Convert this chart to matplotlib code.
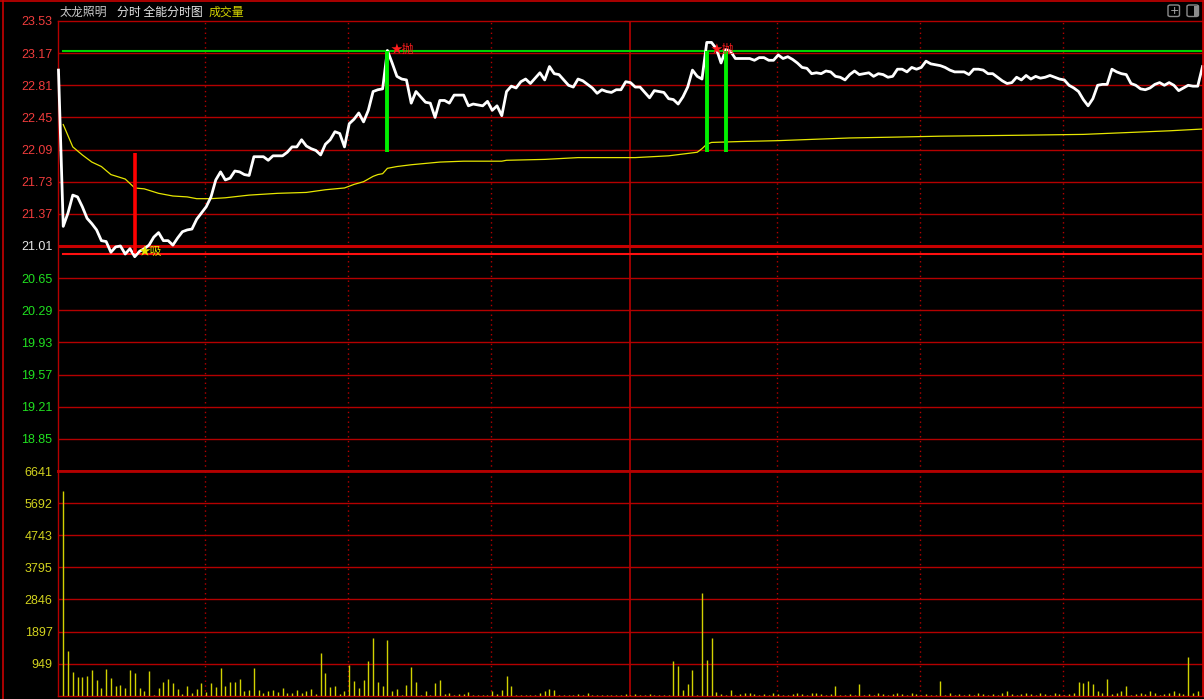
import numpy as np
import matplotlib
matplotlib.use("Agg")
import matplotlib.pyplot as plt
from matplotlib.patches import FancyBboxPatch, Rectangle

plt.rcParams['font.family'] = ['Liberation Sans', 'Noto Sans CJK SC', 'DejaVu Sans']

W, H = 1204, 699

# ---- 分时价格 (分钟 0..240) ----
price = [22.98, 21.23, 21.38, 21.58, 21.56, 21.45, 21.32, 21.26, 21.19, 21.07,
         21.06, 20.94, 21.00, 21.01, 20.92, 20.98, 20.89, 20.95, 20.98, 21.02,
         21.11, 21.16, 21.07, 21.07, 21.02, 21.10, 21.17, 21.19, 21.20, 21.31,
         21.38, 21.45, 21.56, 21.75, 21.84, 21.75, 21.77, 21.85, 21.84, 21.81,
         21.80, 22.01, 22.01, 22.01, 21.97, 22.02, 22.02, 22.02, 22.06, 22.12,
         22.12, 22.20, 22.13, 22.10, 22.08, 22.03, 22.15, 22.20, 22.29, 22.27,
         22.12, 22.38, 22.43, 22.50, 22.40, 22.53, 22.74, 22.76, 22.77, 23.20,
         23.06, 22.91, 22.88, 22.87, 22.61, 22.74, 22.68, 22.62, 22.61, 22.45,
         22.64, 22.64, 22.61, 22.70, 22.70, 22.70, 22.58, 22.60, 22.59, 22.58,
         22.63, 22.53, 22.58, 22.47, 22.74, 22.80, 22.78, 22.85, 22.88, 22.83,
         22.89, 22.95, 22.87, 23.02, 22.94, 22.93, 22.87, 22.81, 22.79, 22.88,
         22.86, 22.82, 22.78, 22.72, 22.76, 22.74, 22.73, 22.76, 22.76, 22.85,
         22.84, 22.79, 22.79, 22.73, 22.67, 22.75, 22.74, 22.73, 22.66, 22.65,
         22.60, 22.68, 22.79, 22.98, 22.91, 22.88, 23.29, 23.29, 23.22, 23.06,
         23.21, 23.19, 23.11, 23.11, 23.11, 23.11, 23.09, 23.12, 23.12, 23.09,
         23.09, 23.15, 23.11, 23.13, 23.10, 23.06, 23.01, 23.00, 22.94, 22.95,
         22.94, 22.97, 22.96, 22.91, 22.90, 22.87, 22.93, 22.97, 22.93, 22.94,
         22.95, 22.91, 22.94, 22.93, 22.90, 22.91, 22.99, 22.99, 22.96, 23.01,
         22.99, 23.01, 23.08, 23.05, 23.04, 23.03, 23.01, 22.98, 22.96, 22.96,
         22.96, 22.93, 22.99, 22.99, 22.98, 22.94, 22.94, 22.90, 22.86, 22.83,
         22.84, 22.90, 22.87, 22.92, 22.88, 22.91, 22.89, 22.90, 22.92, 22.90,
         22.88, 22.87, 22.81, 22.78, 22.74, 22.65, 22.58, 22.66, 22.81, 22.82,
         22.82, 22.99, 22.96, 22.94, 22.93, 22.83, 22.81, 22.77, 22.76, 22.78,
         22.82, 22.84, 22.81, 22.84, 22.81, 22.75, 22.78, 22.81, 22.80, 22.80,
         23.02]

# ---- 均价线 (读取的拐点) ----
avg_min = [1, 3, 5, 7, 9, 11, 14, 16, 18, 21, 24, 27, 29, 32, 35, 40, 46, 52,
           56, 60, 62, 64, 66, 67, 68, 69, 71, 74, 80, 85, 93, 94, 102, 109,
           121, 128, 134, 135, 136, 137, 143, 151, 156, 166, 176, 185, 201,
           215, 224, 233, 240]
avg_val = [22.37, 22.12, 22.03, 21.95, 21.90, 21.81, 21.76, 21.66, 21.65,
           21.60, 21.57, 21.56, 21.54, 21.54, 21.55, 21.58, 21.60, 21.61,
           21.64, 21.66, 21.70, 21.73, 21.79, 21.81, 21.82, 21.88, 21.90,
           21.92, 21.95, 21.96, 21.96, 21.97, 21.98, 22.00, 22.00, 22.02,
           22.06, 22.10, 22.15, 22.17, 22.18, 22.19, 22.20, 22.22, 22.23,
           22.24, 22.25, 22.26, 22.28, 22.30, 22.32]

# ---- 成交量 (分钟 1..240) ----
vol = [6049, 1334, 712, 563, 563, 593, 771, 474, 237, 800,
       534, 296, 326, 237, 771, 682, 237, 148, 741, 30,
       237, 415, 504, 385, 207, 59, 296, 89, 207, 385,
       119, 385, 267, 830, 296, 415, 415, 504, 148, 178,
       830, 178, 89, 148, 178, 119, 237, 89, 89, 178,
       68, 148, 207, 59, 1275, 682, 267, 296, 59, 148,
       910, 445, 237, 474, 1038, 1720, 415, 296, 1660, 148,
       207, 30, 326, 860, 415, 30, 148, 30, 385, 474,
       59, 89, 20, 59, 59, 119, 20, 30, 30, 20,
       148, 59, 178, 593, 296, 20, 20, 20, 20, 30,
       89, 148, 207, 178, 20, 30, 20, 20, 59, 30,
       89, 30, 30, 20, 20, 30, 20, 30, 59, 30,
       59, 30, 30, 59, 20, 20, 20, 30, 1038, 890,
       178, 356, 771, 20, 3024, 1067, 1720, 119, 59, 20,
       178, 30, 59, 89, 89, 59, 30, 59, 30, 89,
       59, 30, 20, 59, 89, 59, 30, 89, 89, 59,
       30, 59, 296, 30, 20, 59, 30, 356, 30, 59,
       30, 89, 59, 30, 59, 89, 59, 30, 89, 59,
       30, 59, 30, 20, 445, 30, 89, 30, 59, 30,
       59, 30, 89, 59, 30, 59, 30, 89, 148, 59,
       30, 59, 89, 59, 30, 89, 59, 30, 89, 59,
       30, 59, 89, 415, 385, 445, 356, 148, 89, 504,
       59, 89, 148, 296, 30, 59, 89, 59, 148, 89,
       30, 59, 89, 148, 89, 59, 1130, 89, 148, 700]

prev_close = 21.01
price_ticks = [23.53, 23.17, 22.81, 22.45, 22.09, 21.73, 21.37, 21.01,
               20.65, 20.29, 19.93, 19.57, 19.21, 18.85]
price_bottom = 18.49
vol_ticks = [949, 1897, 2846, 3795, 4743, 5692, 6641]

# 买卖信号
buy_min = [16]
buy_lo, buy_hi = 20.93, 22.05
sell_min = [69, 136, 140]
sell_txt = ['★抛', '★抛', '']
sell_lo, sell_hi = 22.06, 23.19
support, resistance = 20.92, 23.19

GRID = '#b40000'
BG = '#000000'


def fx(px):
    return px / W


def fy(py):
    return 1 - py / H


fig = plt.figure(figsize=(W / 100, H / 100), dpi=100, facecolor=BG)

left, right = 58, 1202.5
ax = fig.add_axes([fx(left), fy(471), fx(right) - fx(left), fy(21) - fy(471)])
axv = fig.add_axes([fx(left), fy(695.7), fx(right) - fx(left), fy(471) - fy(695.7)])

minutes = np.arange(len(price))
xlo, xhi = -0.1, 240.0

for a in (ax, axv):
    a.set_facecolor(BG)
    a.set_xlim(xlo, xhi)
    a.set_xticks([])
    for s in a.spines.values():
        s.set_color(GRID)
        s.set_linewidth(1.0)
    a.tick_params(axis='y', length=0, pad=4, labelsize=9)
    for m in [30.8, 60.8, 90.8, 150.8, 180.8, 210.8]:
        a.axvline(m, color=GRID, lw=1.0, ls=(0, (1, 2.5)), zorder=1)
    a.axvline(120.0, color='#c80000', lw=1.1, zorder=1)

ax.spines['bottom'].set_linewidth(2.0)
axv.spines['top'].set_linewidth(2.0)

# price panel
ax.set_ylim(price_bottom, price_ticks[0])
ax.set_yticks(price_ticks)
ax.set_yticklabels([f'{p:.2f}' for p in price_ticks])
for lab, p in zip(ax.get_yticklabels(), price_ticks):
    if p > prev_close + 1e-6:
        lab.set_color('#f03c3c')
    elif p < prev_close - 1e-6:
        lab.set_color('#20e020')
    else:
        lab.set_color('#e6e6e6')
for p in price_ticks[1:]:
    if abs(p - prev_close) < 1e-6:
        ax.axhline(p, color='#c80000', lw=2.2, zorder=1)
    else:
        ax.axhline(p, color=GRID, lw=1.0, zorder=1)

ax.axhline(resistance, xmin=0.004, color='#00d200', lw=1.5, zorder=2)
ax.axhline(support, xmin=0.004, color='#ff1010', lw=1.5, zorder=2)

ax.plot(avg_min, avg_val, color='#e6e600', lw=0.9, zorder=3)
ax.plot(minutes, price, color='white', lw=2.0, zorder=4, clip_on=False)

for m in buy_min:
    ax.vlines(m, buy_lo, buy_hi, color='#ff0000', lw=2.6, zorder=5)
    ax.text(m + 0.9, buy_lo + 0.02, '★吸', color='#e6e600', fontsize=8.5,
            ha='left', va='center', family=['Noto Sans CJK SC', 'DejaVu Sans'],
            zorder=6)
for m, t in zip(sell_min, sell_txt):
    ax.vlines(m, sell_lo, sell_hi, color='#00f000', lw=2.8, zorder=5)
    if t:
        ax.text(m + 0.7, sell_hi + 0.02, t, color='#ff1e1e', fontsize=8.5,
                ha='left', va='center',
                family=['Noto Sans CJK SC', 'DejaVu Sans'], zorder=6)

# volume panel
axv.set_ylim(0, vol_ticks[-1])
axv.set_yticks(vol_ticks)
axv.set_yticklabels([str(v) for v in vol_ticks], color='#d2d21e')
for v in vol_ticks[:-1]:
    axv.axhline(v, color=GRID, lw=1.0, zorder=1)
axv.vlines(np.arange(1, len(vol) + 1), 0, vol, color='#d2d200', lw=1.0, zorder=3)

# outer frame
fig.add_artist(plt.Line2D([0, 1], [fy(0.5), fy(0.5)], color='#c80000', lw=1.2))
fig.add_artist(plt.Line2D([fx(2.5), fx(2.5)], [0, 1], color='#c80000', lw=1.2))
fig.add_artist(plt.Line2D([fx(right), fx(right)], [fy(695.7), 1], color='#c80000', lw=1.2))

# title
fig.text(fx(60), fy(12), '太龙照明', color='#c8c8c8', fontsize=8.6,
         family=['Noto Sans CJK SC'], va='center')
fig.text(fx(117), fy(12), '分时 全能分时图', color='#e6e6e6', fontsize=8.6,
         family=['Noto Sans CJK SC'], va='center')
fig.text(fx(209), fy(12), '成交量', color='#d2d200', fontsize=8.6,
         family=['Noto Sans CJK SC'], va='center')

# top-right buttons
for bx in (1168, 1187):
    fig.add_artist(FancyBboxPatch((fx(bx), fy(16.5)), fx(11.5), fy(5) - fy(16.5),
                                  boxstyle='round,pad=0,rounding_size=0.002',
                                  transform=fig.transFigure, fc='none',
                                  ec='#8c8c8c', lw=1.0))
fig.text(fx(1174), fy(10.5), '+', color='#b4b4b4', fontsize=8, ha='center',
         va='center', family=['DejaVu Sans'])
fig.add_artist(Rectangle((fx(1194), fy(15.5)), fx(4), fy(6) - fy(15.5),
                         transform=fig.transFigure, fc='#8c8c8c', ec='none'))

fig.savefig('out.png', dpi=100, facecolor=BG)
